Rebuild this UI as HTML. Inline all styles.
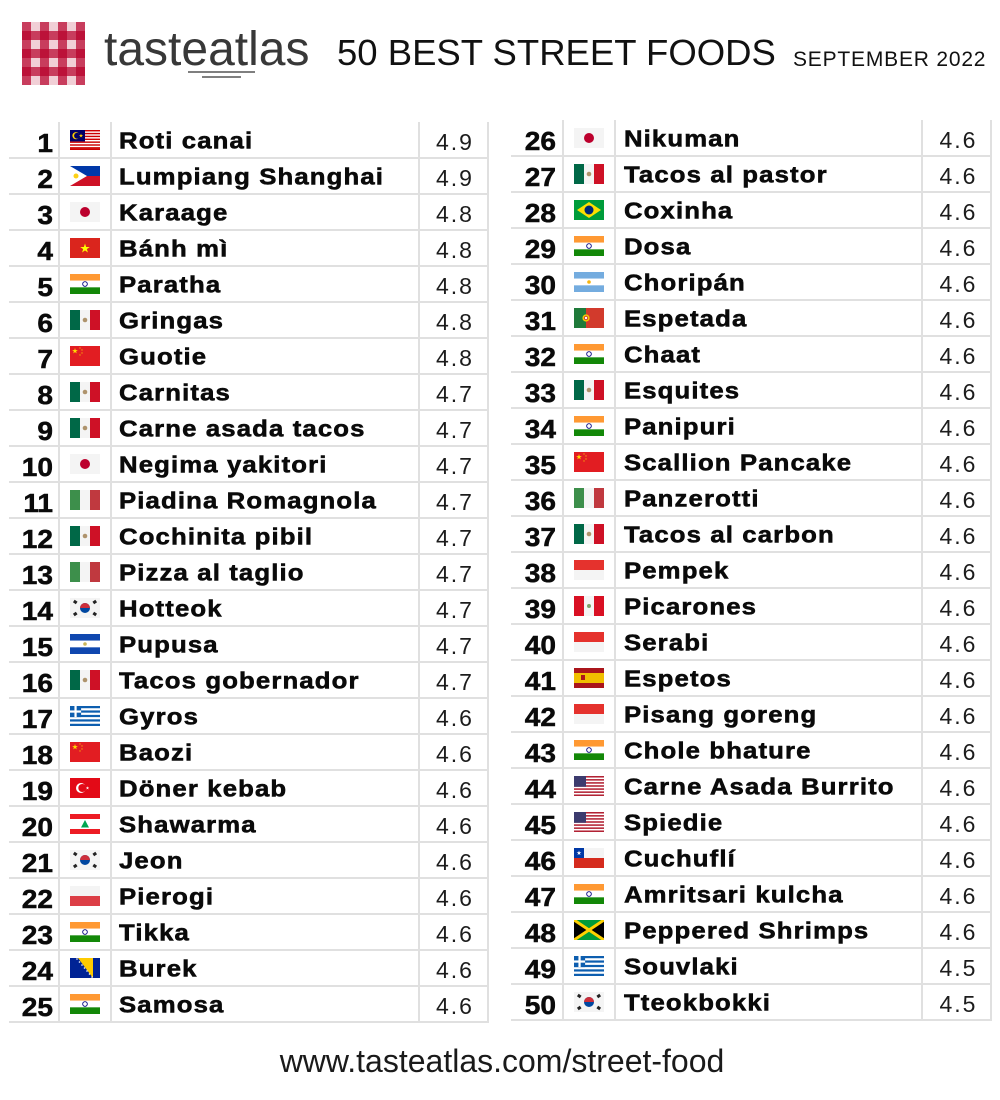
<!DOCTYPE html>
<html><head><meta charset="utf-8">
<style>
html,body{margin:0;padding:0;background:#fff;}
svg{display:block;}
text{font-family:"Liberation Sans",Arial,sans-serif;}
.r{font-weight:bold;font-size:26px;text-anchor:end;fill:#0a0a0a;stroke:#0a0a0a;stroke-width:0.5px;transform:scaleX(1.08);}
.n{font-weight:bold;font-size:23px;letter-spacing:1px;fill:#0a0a0a;stroke:#0a0a0a;stroke-width:0.55px;transform:scaleX(1.12);}
.s{font-size:23px;letter-spacing:2px;text-anchor:middle;fill:#1c1c1c;}
</style></head>
<body>
<svg width="1000" height="1100" viewBox="0 0 1000 1100" xmlns="http://www.w3.org/2000/svg">
<defs>
<path id="st" d="M0,-1L0.2245,-0.309L0.951,-0.309L0.363,0.118L0.588,0.809L0,0.382L-0.588,0.809L-0.363,0.118L-0.951,-0.309L-0.2245,-0.309Z"/>
<symbol id="my" viewBox="0 0 30 20"><rect width="30" height="20" fill="#fff"/><g fill="#cc0001"><rect y="0" width="30" height="1.43"/><rect y="2.86" width="30" height="1.43"/><rect y="5.71" width="30" height="1.43"/><rect y="8.57" width="30" height="1.43"/><rect y="11.43" width="30" height="1.43"/><rect y="14.29" width="30" height="1.43"/><rect y="17.14" width="30" height="1.43"/><rect y="18.57" width="30" height="1.43"/></g><rect width="15" height="11.43" fill="#010066"/><circle cx="6" cy="5.7" r="3.6" fill="#fc0"/><circle cx="7.1" cy="5.7" r="3" fill="#010066"/><use href="#st" transform="translate(11,5.7) scale(2.2)" fill="#fc0"/></symbol>
<symbol id="ph" viewBox="0 0 30 20"><rect width="30" height="10" fill="#0038a8"/><rect y="10" width="30" height="10" fill="#ce1126"/><polygon points="0,0 17,10 0,20" fill="#fff"/><circle cx="6" cy="10" r="2.5" fill="#fcd116"/></symbol>
<symbol id="jp" viewBox="0 0 30 20"><rect width="30" height="20" fill="#f4f4f4"/><circle cx="15" cy="10" r="5" fill="#bc002d"/></symbol>
<symbol id="vn" viewBox="0 0 30 20"><rect width="30" height="20" fill="#da251d"/><use href="#st" transform="translate(15,10.5) scale(5)" fill="#ff0"/></symbol>
<symbol id="in" viewBox="0 0 30 20"><rect width="30" height="6.67" fill="#ff9933"/><rect y="6.67" width="30" height="6.67" fill="#fff"/><rect y="13.33" width="30" height="6.67" fill="#138808"/><circle cx="15" cy="10" r="2.3" fill="none" stroke="#000080" stroke-width="0.9"/></symbol>
<symbol id="mx" viewBox="0 0 30 20"><rect width="10" height="20" fill="#006847"/><rect x="10" width="10" height="20" fill="#f4f4f4"/><rect x="20" width="10" height="20" fill="#ce1126"/><circle cx="15" cy="10" r="2.3" fill="#9c7a4a" opacity="0.8"/></symbol>
<symbol id="cn" viewBox="0 0 30 20"><rect width="30" height="20" fill="#e21d22"/><use href="#st" transform="translate(5,5) scale(3)" fill="#ffde00"/><use href="#st" transform="translate(10,2) scale(1)" fill="#ffde00"/><use href="#st" transform="translate(12,4) scale(1)" fill="#ffde00"/><use href="#st" transform="translate(12,7) scale(1)" fill="#ffde00"/><use href="#st" transform="translate(10,9) scale(1)" fill="#ffde00"/></symbol>
<symbol id="it" viewBox="0 0 30 20"><rect width="10" height="20" fill="#3d8f4b"/><rect x="10" width="10" height="20" fill="#f4f4f4"/><rect x="20" width="10" height="20" fill="#c0393f"/></symbol>
<symbol id="kr" viewBox="0 0 30 20"><rect width="30" height="20" fill="#f4f4f4"/><circle cx="15" cy="10" r="5" fill="#0047a0"/><path d="M10 10A5 5 0 0 1 20 10Z" fill="#cd2e3a"/><g fill="#222"><rect x="3.5" y="2.5" width="3.5" height="3" transform="rotate(35 5.2 4)"/><rect x="23" y="2.5" width="3.5" height="3" transform="rotate(-35 24.7 4)"/><rect x="3.5" y="14.5" width="3.5" height="3" transform="rotate(-35 5.2 16)"/><rect x="23" y="14.5" width="3.5" height="3" transform="rotate(35 24.7 16)"/></g></symbol>
<symbol id="sv" viewBox="0 0 30 20"><rect width="30" height="6.67" fill="#0f47af"/><rect y="6.67" width="30" height="6.67" fill="#fff"/><rect y="13.33" width="30" height="6.67" fill="#0f47af"/><circle cx="15" cy="10" r="1.8" fill="#c9b55a"/></symbol>
<symbol id="gr" viewBox="0 0 30 20"><rect width="30" height="20" fill="#fff"/><g fill="#0d5eaf"><rect y="0" width="30" height="2.22"/><rect y="4.44" width="30" height="2.22"/><rect y="8.89" width="30" height="2.22"/><rect y="13.33" width="30" height="2.22"/><rect y="17.78" width="30" height="2.22"/><rect width="11.1" height="11.1"/></g><rect y="4.44" width="11.1" height="2.22" fill="#fff"/><rect x="4.44" width="2.22" height="11.1" fill="#fff"/></symbol>
<symbol id="tr" viewBox="0 0 30 20"><rect width="30" height="20" fill="#e30a17"/><circle cx="11" cy="10" r="5" fill="#fff"/><circle cx="12.3" cy="10" r="4" fill="#e30a17"/><use href="#st" transform="translate(17.5,10) scale(1.8)" fill="#fff"/></symbol>
<symbol id="lb" viewBox="0 0 30 20"><rect width="30" height="20" fill="#fff"/><rect width="30" height="5" fill="#ed1c24"/><rect y="15" width="30" height="5" fill="#ed1c24"/><polygon points="15,6 19,13.5 11,13.5" fill="#00a651"/></symbol>
<symbol id="pl" viewBox="0 0 30 20"><rect width="30" height="10" fill="#f4f4f4"/><rect y="10" width="30" height="10" fill="#dc3e46"/></symbol>
<symbol id="ba" viewBox="0 0 30 20"><rect width="30" height="20" fill="#002395"/><polygon points="8,0 23,0 23,20" fill="#fecb00"/><g fill="#fff"><circle cx="7" cy="1" r="0.8"/><circle cx="9.5" cy="4" r="0.8"/><circle cx="12" cy="7" r="0.8"/><circle cx="14.5" cy="10" r="0.8"/><circle cx="17" cy="13" r="0.8"/><circle cx="19.5" cy="16" r="0.8"/><circle cx="22" cy="19" r="0.8"/></g></symbol>
<symbol id="br" viewBox="0 0 30 20"><rect width="30" height="20" fill="#009c3b"/><polygon points="15,2 27,10 15,18 3,10" fill="#fedf00"/><circle cx="15" cy="10" r="4.5" fill="#002776"/></symbol>
<symbol id="ar" viewBox="0 0 30 20"><rect width="30" height="6.67" fill="#74acdf"/><rect y="6.67" width="30" height="6.67" fill="#fff"/><rect y="13.33" width="30" height="6.67" fill="#74acdf"/><circle cx="15" cy="10" r="1.8" fill="#f6b40e"/></symbol>
<symbol id="pt" viewBox="0 0 30 20"><rect width="12" height="20" fill="#1f7a3a"/><rect x="12" width="18" height="20" fill="#d23a2c"/><circle cx="12" cy="10" r="3.6" fill="#f5d000"/><circle cx="12" cy="10" r="2.2" fill="#d23a2c"/><circle cx="12" cy="10" r="1.2" fill="#fff"/></symbol>
<symbol id="id" viewBox="0 0 30 20"><rect width="30" height="10" fill="#e5322d"/><rect y="10" width="30" height="10" fill="#f4f4f4"/></symbol>
<symbol id="pe" viewBox="0 0 30 20"><rect width="10" height="20" fill="#d91023"/><rect x="10" width="10" height="20" fill="#f4f4f4"/><rect x="20" width="10" height="20" fill="#d91023"/><circle cx="15" cy="10" r="2" fill="#7ca36a"/></symbol>
<symbol id="es" viewBox="0 0 30 20"><rect width="30" height="20" fill="#aa151b"/><rect y="5" width="30" height="10" fill="#f1bf00"/><rect x="7" y="7" width="4" height="5" fill="#ad1519"/></symbol>
<symbol id="us" viewBox="0 0 30 20"><rect width="30" height="20" fill="#fff"/><g fill="#b22234"><rect y="0" width="30" height="1.54"/><rect y="3.08" width="30" height="1.54"/><rect y="6.15" width="30" height="1.54"/><rect y="9.23" width="30" height="1.54"/><rect y="12.31" width="30" height="1.54"/><rect y="15.38" width="30" height="1.54"/><rect y="18.46" width="30" height="1.54"/></g><rect width="12" height="10.77" fill="#3c3b6e"/></symbol>
<symbol id="cl" viewBox="0 0 30 20"><rect width="30" height="10" fill="#f4f4f4"/><rect y="10" width="30" height="10" fill="#d52b1e"/><rect width="10" height="10" fill="#0039a6"/><use href="#st" transform="translate(5,5) scale(2.5)" fill="#fff"/></symbol>
<symbol id="jm" viewBox="0 0 30 20"><rect width="30" height="20" fill="#009b3a"/><polygon points="0,0 0,20 13,10" fill="#000"/><polygon points="30,0 30,20 17,10" fill="#000"/><line x1="0" y1="0" x2="30" y2="20" stroke="#fed100" stroke-width="3"/><line x1="30" y1="0" x2="0" y2="20" stroke="#fed100" stroke-width="3"/></symbol>
</defs>

<!-- Logo gingham -->
<g transform="translate(22,22)">
<rect width="63" height="63" fill="#f1cfd6"/>
<g fill="#b8002a" opacity="0.7">
<rect x="0" width="9" height="63"/><rect x="18" width="9" height="63"/><rect x="36" width="9" height="63"/><rect x="54" width="9" height="63"/>
</g>
<g fill="#b8002a" opacity="0.7">
<rect y="9" width="63" height="9"/><rect y="27" width="63" height="9"/><rect y="45" width="63" height="9"/>
</g>
</g>
<text x="104" y="65" font-size="48" fill="#383838">tasteatlas</text>
<line x1="188" y1="72" x2="255" y2="72" stroke="#555" stroke-width="1.5"/>
<line x1="202" y1="77" x2="241" y2="77" stroke="#555" stroke-width="1.5"/>
<text x="337" y="65" font-size="36.5" fill="#111">50 BEST STREET FOODS</text>
<text x="793" y="66" font-size="21" letter-spacing="0.8" fill="#111">SEPTEMBER 2022</text>

<!-- grid lines -->
<g stroke="#e0e0e0" stroke-width="2" fill="none">
<path d="M9 158H489M9 194H489M9 230H489M9 266H489M9 302H489M9 338H489M9 374H489M9 410H489M9 446H489M9 482H489M9 518H489M9 554H489M9 590H489M9 626H489M9 662H489M9 698H489M9 734H489M9 770H489M9 806H489M9 842H489M9 878H489M9 914H489M9 950H489M9 986H489M9 1022H489"/>
<path d="M59 122V1023M111 122V1023M419 122V1023M488 122V1023"/>
<path d="M511 156H992M511 192H992M511 228H992M511 264H992M511 300H992M511 336H992M511 372H992M511 408H992M511 444H992M511 480H992M511 516H992M511 552H992M511 588H992M511 624H992M511 660H992M511 696H992M511 732H992M511 768H992M511 804H992M511 840H992M511 876H992M511 912H992M511 948H992M511 984H992M511 1020H992"/>
<path d="M563 120V1021M615 120V1021M922 120V1021M991 120V1021"/>
</g>

<!-- left column -->
<g transform="translate(0,122)"><text class="r" x="49.1" y="30">1</text><use href="#my" x="70" y="8" width="30" height="20"/><text class="n" x="106.25" y="26.5">Roti canai</text><text class="s" x="455" y="28">4.9</text></g>
<g transform="translate(0,158)"><text class="r" x="49.1" y="30">2</text><use href="#ph" x="70" y="8" width="30" height="20"/><text class="n" x="106.25" y="26.5">Lumpiang Shanghai</text><text class="s" x="455" y="28">4.9</text></g>
<g transform="translate(0,194)"><text class="r" x="49.1" y="30">3</text><use href="#jp" x="70" y="8" width="30" height="20"/><text class="n" x="106.25" y="26.5">Karaage</text><text class="s" x="455" y="28">4.8</text></g>
<g transform="translate(0,230)"><text class="r" x="49.1" y="30">4</text><use href="#vn" x="70" y="8" width="30" height="20"/><text class="n" x="106.25" y="26.5">Bánh mì</text><text class="s" x="455" y="28">4.8</text></g>
<g transform="translate(0,266)"><text class="r" x="49.1" y="30">5</text><use href="#in" x="70" y="8" width="30" height="20"/><text class="n" x="106.25" y="26.5">Paratha</text><text class="s" x="455" y="28">4.8</text></g>
<g transform="translate(0,302)"><text class="r" x="49.1" y="30">6</text><use href="#mx" x="70" y="8" width="30" height="20"/><text class="n" x="106.25" y="26.5">Gringas</text><text class="s" x="455" y="28">4.8</text></g>
<g transform="translate(0,338)"><text class="r" x="49.1" y="30">7</text><use href="#cn" x="70" y="8" width="30" height="20"/><text class="n" x="106.25" y="26.5">Guotie</text><text class="s" x="455" y="28">4.8</text></g>
<g transform="translate(0,374)"><text class="r" x="49.1" y="30">8</text><use href="#mx" x="70" y="8" width="30" height="20"/><text class="n" x="106.25" y="26.5">Carnitas</text><text class="s" x="455" y="28">4.7</text></g>
<g transform="translate(0,410)"><text class="r" x="49.1" y="30">9</text><use href="#mx" x="70" y="8" width="30" height="20"/><text class="n" x="106.25" y="26.5">Carne asada tacos</text><text class="s" x="455" y="28">4.7</text></g>
<g transform="translate(0,446)"><text class="r" x="49.1" y="30">10</text><use href="#jp" x="70" y="8" width="30" height="20"/><text class="n" x="106.25" y="26.5">Negima yakitori</text><text class="s" x="455" y="28">4.7</text></g>
<g transform="translate(0,482)"><text class="r" x="49.1" y="30">11</text><use href="#it" x="70" y="8" width="30" height="20"/><text class="n" x="106.25" y="26.5">Piadina Romagnola</text><text class="s" x="455" y="28">4.7</text></g>
<g transform="translate(0,518)"><text class="r" x="49.1" y="30">12</text><use href="#mx" x="70" y="8" width="30" height="20"/><text class="n" x="106.25" y="26.5">Cochinita pibil</text><text class="s" x="455" y="28">4.7</text></g>
<g transform="translate(0,554)"><text class="r" x="49.1" y="30">13</text><use href="#it" x="70" y="8" width="30" height="20"/><text class="n" x="106.25" y="26.5">Pizza al taglio</text><text class="s" x="455" y="28">4.7</text></g>
<g transform="translate(0,590)"><text class="r" x="49.1" y="30">14</text><use href="#kr" x="70" y="8" width="30" height="20"/><text class="n" x="106.25" y="26.5">Hotteok</text><text class="s" x="455" y="28">4.7</text></g>
<g transform="translate(0,626)"><text class="r" x="49.1" y="30">15</text><use href="#sv" x="70" y="8" width="30" height="20"/><text class="n" x="106.25" y="26.5">Pupusa</text><text class="s" x="455" y="28">4.7</text></g>
<g transform="translate(0,662)"><text class="r" x="49.1" y="30">16</text><use href="#mx" x="70" y="8" width="30" height="20"/><text class="n" x="106.25" y="26.5">Tacos gobernador</text><text class="s" x="455" y="28">4.7</text></g>
<g transform="translate(0,698)"><text class="r" x="49.1" y="30">17</text><use href="#gr" x="70" y="8" width="30" height="20"/><text class="n" x="106.25" y="26.5">Gyros</text><text class="s" x="455" y="28">4.6</text></g>
<g transform="translate(0,734)"><text class="r" x="49.1" y="30">18</text><use href="#cn" x="70" y="8" width="30" height="20"/><text class="n" x="106.25" y="26.5">Baozi</text><text class="s" x="455" y="28">4.6</text></g>
<g transform="translate(0,770)"><text class="r" x="49.1" y="30">19</text><use href="#tr" x="70" y="8" width="30" height="20"/><text class="n" x="106.25" y="26.5">Döner kebab</text><text class="s" x="455" y="28">4.6</text></g>
<g transform="translate(0,806)"><text class="r" x="49.1" y="30">20</text><use href="#lb" x="70" y="8" width="30" height="20"/><text class="n" x="106.25" y="26.5">Shawarma</text><text class="s" x="455" y="28">4.6</text></g>
<g transform="translate(0,842)"><text class="r" x="49.1" y="30">21</text><use href="#kr" x="70" y="8" width="30" height="20"/><text class="n" x="106.25" y="26.5">Jeon</text><text class="s" x="455" y="28">4.6</text></g>
<g transform="translate(0,878)"><text class="r" x="49.1" y="30">22</text><use href="#pl" x="70" y="8" width="30" height="20"/><text class="n" x="106.25" y="26.5">Pierogi</text><text class="s" x="455" y="28">4.6</text></g>
<g transform="translate(0,914)"><text class="r" x="49.1" y="30">23</text><use href="#in" x="70" y="8" width="30" height="20"/><text class="n" x="106.25" y="26.5">Tikka</text><text class="s" x="455" y="28">4.6</text></g>
<g transform="translate(0,950)"><text class="r" x="49.1" y="30">24</text><use href="#ba" x="70" y="8" width="30" height="20"/><text class="n" x="106.25" y="26.5">Burek</text><text class="s" x="455" y="28">4.6</text></g>
<g transform="translate(0,986)"><text class="r" x="49.1" y="30">25</text><use href="#in" x="70" y="8" width="30" height="20"/><text class="n" x="106.25" y="26.5">Samosa</text><text class="s" x="455" y="28">4.6</text></g>

<!-- right column -->
<g transform="translate(0,120)"><text class="r" x="514.8" y="30">26</text><use href="#jp" x="574" y="8" width="30" height="20"/><text class="n" x="557.1" y="26.5">Nikuman</text><text class="s" x="958.5" y="28">4.6</text></g>
<g transform="translate(0,156)"><text class="r" x="514.8" y="30">27</text><use href="#mx" x="574" y="8" width="30" height="20"/><text class="n" x="557.1" y="26.5">Tacos al pastor</text><text class="s" x="958.5" y="28">4.6</text></g>
<g transform="translate(0,192)"><text class="r" x="514.8" y="30">28</text><use href="#br" x="574" y="8" width="30" height="20"/><text class="n" x="557.1" y="26.5">Coxinha</text><text class="s" x="958.5" y="28">4.6</text></g>
<g transform="translate(0,228)"><text class="r" x="514.8" y="30">29</text><use href="#in" x="574" y="8" width="30" height="20"/><text class="n" x="557.1" y="26.5">Dosa</text><text class="s" x="958.5" y="28">4.6</text></g>
<g transform="translate(0,264)"><text class="r" x="514.8" y="30">30</text><use href="#ar" x="574" y="8" width="30" height="20"/><text class="n" x="557.1" y="26.5">Choripán</text><text class="s" x="958.5" y="28">4.6</text></g>
<g transform="translate(0,300)"><text class="r" x="514.8" y="30">31</text><use href="#pt" x="574" y="8" width="30" height="20"/><text class="n" x="557.1" y="26.5">Espetada</text><text class="s" x="958.5" y="28">4.6</text></g>
<g transform="translate(0,336)"><text class="r" x="514.8" y="30">32</text><use href="#in" x="574" y="8" width="30" height="20"/><text class="n" x="557.1" y="26.5">Chaat</text><text class="s" x="958.5" y="28">4.6</text></g>
<g transform="translate(0,372)"><text class="r" x="514.8" y="30">33</text><use href="#mx" x="574" y="8" width="30" height="20"/><text class="n" x="557.1" y="26.5">Esquites</text><text class="s" x="958.5" y="28">4.6</text></g>
<g transform="translate(0,408)"><text class="r" x="514.8" y="30">34</text><use href="#in" x="574" y="8" width="30" height="20"/><text class="n" x="557.1" y="26.5">Panipuri</text><text class="s" x="958.5" y="28">4.6</text></g>
<g transform="translate(0,444)"><text class="r" x="514.8" y="30">35</text><use href="#cn" x="574" y="8" width="30" height="20"/><text class="n" x="557.1" y="26.5">Scallion Pancake</text><text class="s" x="958.5" y="28">4.6</text></g>
<g transform="translate(0,480)"><text class="r" x="514.8" y="30">36</text><use href="#it" x="574" y="8" width="30" height="20"/><text class="n" x="557.1" y="26.5">Panzerotti</text><text class="s" x="958.5" y="28">4.6</text></g>
<g transform="translate(0,516)"><text class="r" x="514.8" y="30">37</text><use href="#mx" x="574" y="8" width="30" height="20"/><text class="n" x="557.1" y="26.5">Tacos al carbon</text><text class="s" x="958.5" y="28">4.6</text></g>
<g transform="translate(0,552)"><text class="r" x="514.8" y="30">38</text><use href="#id" x="574" y="8" width="30" height="20"/><text class="n" x="557.1" y="26.5">Pempek</text><text class="s" x="958.5" y="28">4.6</text></g>
<g transform="translate(0,588)"><text class="r" x="514.8" y="30">39</text><use href="#pe" x="574" y="8" width="30" height="20"/><text class="n" x="557.1" y="26.5">Picarones</text><text class="s" x="958.5" y="28">4.6</text></g>
<g transform="translate(0,624)"><text class="r" x="514.8" y="30">40</text><use href="#id" x="574" y="8" width="30" height="20"/><text class="n" x="557.1" y="26.5">Serabi</text><text class="s" x="958.5" y="28">4.6</text></g>
<g transform="translate(0,660)"><text class="r" x="514.8" y="30">41</text><use href="#es" x="574" y="8" width="30" height="20"/><text class="n" x="557.1" y="26.5">Espetos</text><text class="s" x="958.5" y="28">4.6</text></g>
<g transform="translate(0,696)"><text class="r" x="514.8" y="30">42</text><use href="#id" x="574" y="8" width="30" height="20"/><text class="n" x="557.1" y="26.5">Pisang goreng</text><text class="s" x="958.5" y="28">4.6</text></g>
<g transform="translate(0,732)"><text class="r" x="514.8" y="30">43</text><use href="#in" x="574" y="8" width="30" height="20"/><text class="n" x="557.1" y="26.5">Chole bhature</text><text class="s" x="958.5" y="28">4.6</text></g>
<g transform="translate(0,768)"><text class="r" x="514.8" y="30">44</text><use href="#us" x="574" y="8" width="30" height="20"/><text class="n" x="557.1" y="26.5">Carne Asada Burrito</text><text class="s" x="958.5" y="28">4.6</text></g>
<g transform="translate(0,804)"><text class="r" x="514.8" y="30">45</text><use href="#us" x="574" y="8" width="30" height="20"/><text class="n" x="557.1" y="26.5">Spiedie</text><text class="s" x="958.5" y="28">4.6</text></g>
<g transform="translate(0,840)"><text class="r" x="514.8" y="30">46</text><use href="#cl" x="574" y="8" width="30" height="20"/><text class="n" x="557.1" y="26.5">Cuchuflí</text><text class="s" x="958.5" y="28">4.6</text></g>
<g transform="translate(0,876)"><text class="r" x="514.8" y="30">47</text><use href="#in" x="574" y="8" width="30" height="20"/><text class="n" x="557.1" y="26.5">Amritsari kulcha</text><text class="s" x="958.5" y="28">4.6</text></g>
<g transform="translate(0,912)"><text class="r" x="514.8" y="30">48</text><use href="#jm" x="574" y="8" width="30" height="20"/><text class="n" x="557.1" y="26.5">Peppered Shrimps</text><text class="s" x="958.5" y="28">4.6</text></g>
<g transform="translate(0,948)"><text class="r" x="514.8" y="30">49</text><use href="#gr" x="574" y="8" width="30" height="20"/><text class="n" x="557.1" y="26.5">Souvlaki</text><text class="s" x="958.5" y="28">4.5</text></g>
<g transform="translate(0,984)"><text class="r" x="514.8" y="30">50</text><use href="#kr" x="574" y="8" width="30" height="20"/><text class="n" x="557.1" y="26.5">Tteokbokki</text><text class="s" x="958.5" y="28">4.5</text></g>

<text x="502" y="1072" font-size="32" text-anchor="middle" fill="#1a1a1a">www.tasteatlas.com/street-food</text>
</svg>
</body></html>
